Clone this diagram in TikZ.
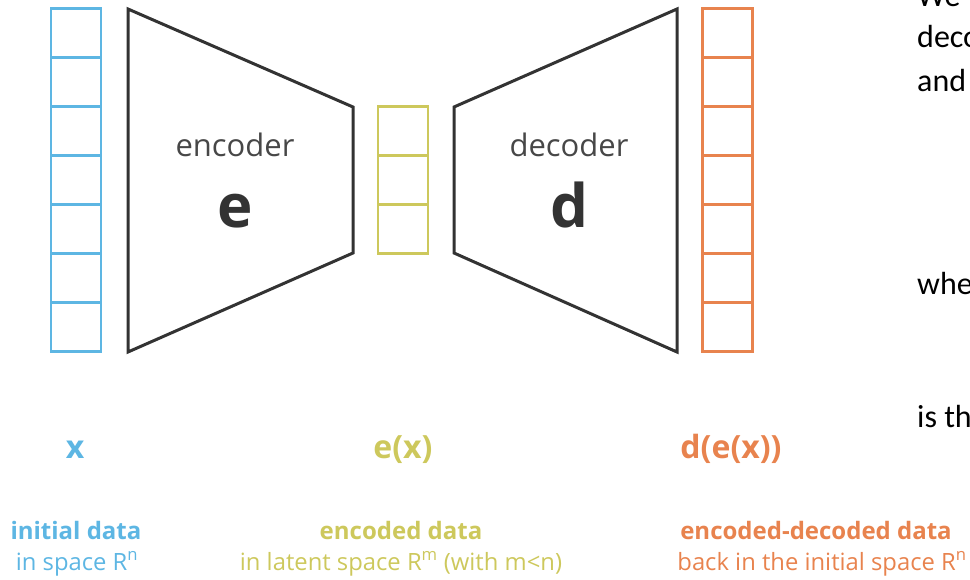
\documentclass[tikz,border=0pt]{standalone}
\usepackage{fontspec}
\setmainfont{Open Sans}
\newfontfamily\slidefont{Carlito}
\definecolor{inblue}{HTML}{5DB6E3}
\definecolor{latyellow}{HTML}{CDC85C}
\definecolor{outorange}{HTML}{E8834E}
\definecolor{netgray}{HTML}{333333}
\begin{document}
\begin{tikzpicture}[x=1pt, y=-1pt, line join=miter,
  cell/.style={draw=#1, line width=2.8pt, minimum width=50pt, minimum height=49pt, inner sep=0pt},
  net/.style={draw=netgray, line width=3pt},
  tag/.style={font=\fontsize{31}{31}\selectfont, text=netgray!90, anchor=base},
  big/.style={font=\fontsize{60}{60}\selectfont\bfseries, text=netgray, anchor=base},
  val/.style={font=\fontsize{32}{32}\selectfont\bfseries, text=#1, anchor=base},
  what/.style={font=\fontsize{24}{24}\selectfont\bfseries, text=#1, anchor=base},
  where/.style={font=\fontsize{23.8}{24}\selectfont, text=#1, anchor=base},
  slide/.style={font=\slidefont\fontsize{32}{32}\selectfont, anchor=base west, inner sep=0pt}]
\useasboundingbox (0,0) rectangle (970,580);
\clip (0,0) rectangle (970,580);
% input, code and output vectors
\foreach \i in {0,...,6} {
  \node[cell=inblue] (in\i) at (76,32.8+49.05*\i) {};
  \node[cell=outorange] (out\i) at (727.5,32.8+49.05*\i) {};
}
\foreach \i in {0,1,2}
  \node[cell=latyellow] (code\i) at (403,131.2+48.8*\i) {};
% encoder and decoder blocks
\draw[net] (128,9) -- (353,107) -- (353,253) -- (128,352) -- cycle;
\draw[net] (454,107) -- (677,9) -- (677,352) -- (454,253) -- cycle;
\node[tag] (enc) at (235,157) {encoder};
\node[big] (e) at (235,228) {e};
\node[tag] (dec) at (569,157) {decoder};
\node[big] (d) at (569,228) {d};
% what each vector holds
\node[val=inblue] (x) at (75,458) {x};
\node[val=latyellow] (ex) at (403,458) {e(x)};
\node[val=outorange] (dex) at (731,458) {d(e(x))};
\node[what=inblue] (xwhat) at (76,539) {initial data};
\node[where=inblue] (xwhere) at (77,570) {in space R\textsuperscript{n}};
\node[what=latyellow] (exwhat) at (401,539) {encoded data};
\node[where=latyellow] (exwhere) at (401,570) {in latent space R\textsuperscript{m} (with m<n)};
\node[what=outorange] (dexwhat) at (816,539) {encoded-decoded data};
\node[where=outorange] (dexwhere) at (822,570) {back in the initial space R\textsuperscript{n}};
% slide text running off the right edge
\foreach \t/\y in {We/7, deco/48, and/92, whe/295, is th/427}
  \node[slide] (s\y) at (917,\y) {\t};
\end{tikzpicture}
\end{document}
